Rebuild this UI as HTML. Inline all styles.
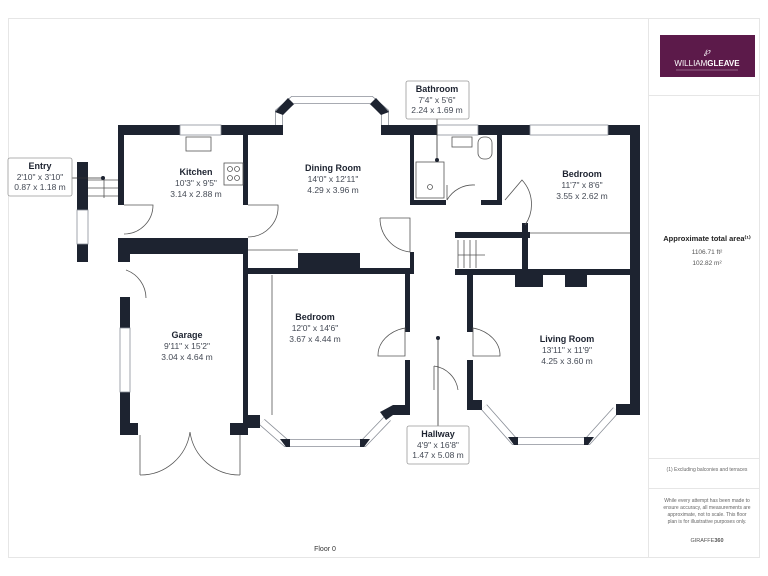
<!DOCTYPE html>
<html><head><meta charset="utf-8"><style>
body{margin:0;background:#fff;}
svg{display:block;font-family:"Liberation Sans",sans-serif;}
.w{fill:#1d2330;}
.win{fill:#fff;stroke:#8a8f98;stroke-width:0.8;}
.t{fill:#1d2330;font-weight:bold;font-size:9px;text-anchor:middle;}
.s{fill:#444a55;font-size:8.5px;text-anchor:middle;}
.l{fill:none;stroke:#555;stroke-width:0.8;}
.box{fill:#fff;stroke:#999;stroke-width:0.8;}
.bo{fill:none;stroke:#8a8f98;stroke-width:8;}
.bi{fill:none;stroke:#fff;stroke-width:6.4;}
</style></head><body>
<svg width="768" height="576" viewBox="0 0 768 576">
<rect x="8.5" y="18.5" width="751" height="539" fill="none" stroke="#e6e6e6"/>
<line x1="648.5" y1="18" x2="648.5" y2="558" stroke="#e6e6e6"/>
<line x1="648" y1="95.5" x2="760" y2="95.5" stroke="#e6e6e6"/>
<line x1="648" y1="458.5" x2="760" y2="458.5" stroke="#e6e6e6"/>
<line x1="648" y1="488.5" x2="760" y2="488.5" stroke="#e6e6e6"/>
<rect x="660" y="35" width="95" height="42" fill="#5c1a4a"/>
<text x="707" y="54" fill="#fff" font-size="9" text-anchor="middle" font-style="italic">℘</text>
<text x="707" y="66" fill="#fff" font-size="8" text-anchor="middle">WILLIAM<tspan font-weight="bold">GLEAVE</tspan></text>
<line x1="676" y1="70" x2="738" y2="70" stroke="#c9a9c0" stroke-width="0.6"/>
<text x="707" y="241" font-size="7.5" font-weight="bold" text-anchor="middle" fill="#222">Approximate total area⁽¹⁾</text>
<text x="707" y="254" font-size="6.5" text-anchor="middle" fill="#555">1106.71 ft²</text>
<text x="707" y="265" font-size="6.5" text-anchor="middle" fill="#555">102.82 m²</text>
<text x="707" y="471" font-size="5" text-anchor="middle" fill="#666">(1) Excluding balconies and terraces</text>
<text x="707" y="502" font-size="5" text-anchor="middle" fill="#666">While every attempt has been made to</text>
<text x="707" y="509" font-size="5" text-anchor="middle" fill="#666">ensure accuracy, all measurements are</text>
<text x="707" y="516" font-size="5" text-anchor="middle" fill="#666">approximate, not to scale. This floor</text>
<text x="707" y="523" font-size="5" text-anchor="middle" fill="#666">plan is for illustrative purposes only.</text>
<text x="707" y="542" font-size="5.5" text-anchor="middle" fill="#555">GIRAFFE<tspan font-weight="bold">360</tspan></text>
<text x="325" y="551" font-size="7" text-anchor="middle" fill="#333">Floor 0</text>

<polyline class="bo" points="279,125 279,112 293,100 371,100 385,112 385,125"/>
<polyline class="bi" points="279,125 279,112 293,100 371,100 385,112 385,125"/>
<polyline class="bo" points="262,422 286,443 364,443 388,418"/>
<polyline class="bi" points="262,422 286,443 364,443 388,418"/>
<polyline class="bo" points="484,407 514,441 588,441 616,410"/>
<polyline class="bi" points="484,407 514,441 588,441 616,410"/>
<g class="w">
<rect x="118" y="125" width="62" height="10"/>
<rect x="221" y="125" width="62" height="10"/>
<polygon points="275,112 288,98 294,104 283,115"/>
<polygon points="370,104 376,98 389,112 381,115"/>
<rect x="118" y="125" width="6" height="80"/>
<rect x="243" y="135" width="5" height="70"/>
<rect x="118" y="238" width="130" height="16"/>
<rect x="118" y="238" width="12" height="24"/>
<rect x="77" y="162" width="11" height="48"/>
<rect x="77" y="244" width="11" height="18"/>
<rect x="381" y="125" width="56" height="10"/>
<rect x="478" y="125" width="52" height="10"/>
<rect x="608" y="125" width="32" height="10"/>
<rect x="630" y="125" width="10" height="290"/>
<rect x="410" y="135" width="4" height="65"/>
<rect x="410" y="200" width="36" height="5"/>
<rect x="481" y="200" width="21" height="5"/>
<rect x="497" y="135" width="5" height="70"/>
<rect x="455" y="232" width="75" height="6"/>
<rect x="522" y="223" width="6" height="52"/>
<rect x="455" y="269" width="175" height="6"/>
<rect x="515" y="269" width="28" height="18"/>
<rect x="565" y="269" width="22" height="18"/>
<rect x="243" y="268" width="171" height="6"/>
<rect x="298" y="253" width="62" height="16"/>
<rect x="243" y="238" width="5" height="30"/>
<rect x="410" y="252" width="4" height="22"/>
<rect x="405" y="270" width="5" height="62"/>
<rect x="405" y="360" width="5" height="48"/>
<rect x="393" y="405" width="17" height="10"/>
<polygon points="380,412 393,405 393,415 386,420"/>
<rect x="467" y="270" width="6" height="62"/>
<rect x="467" y="360" width="6" height="50"/>
<rect x="467" y="400" width="15" height="10"/>
<rect x="243" y="270" width="5" height="150"/>
<rect x="243" y="415" width="17" height="13"/>
<rect x="230" y="423" width="18" height="12"/>
<rect x="120" y="297" width="10" height="31"/>
<rect x="120" y="392" width="10" height="43"/>
<rect x="120" y="423" width="18" height="12"/>
<rect x="616" y="404" width="24" height="11"/>
<polygon points="280,439 290,439 290,447 286,447"/>
<polygon points="360,439 370,439 364,447 360,447"/>
<polygon points="508,437 518,437 518,445 514,445"/>
<polygon points="584,437 594,437 588,445 584,445"/>
</g>
<rect class="win" x="180" y="125" width="41" height="10"/>
<rect class="win" x="437" y="125" width="41" height="10"/>
<rect class="win" x="530" y="125" width="78" height="10"/>
<rect class="win" x="77" y="210" width="11" height="34"/>
<rect class="win" x="120" y="328" width="10" height="64"/>
<path class="l" d="M124,205 L153,205 A29,29 0 0 1 124,234"/>
<path class="l" d="M248,205 L278,205 A30,30 0 0 1 248,237"/>
<path class="l" d="M380,218 L410,218 L410,252 A34,34 0 0 1 380,218"/>
<path class="l" d="M447,185 L447,200 M447,200 A30,30 0 0 1 475,185"/>
<path class="l" d="M505,200 L522,180 A36,36 0 0 1 525,225"/>
<path class="l" d="M378,356 A35,28 0 0 1 405,328 L405,356 Z"/>
<path class="l" d="M500,356 A35,28 0 0 0 473,328 L473,356 Z"/>
<path class="l" d="M146,298 A30,30 0 0 0 126,270"/>
<path class="l" d="M434,366 L434,390 M434,366 A28,28 0 0 1 458,390"/>
<path class="l" d="M140,475 L140,435 M140,475 A50,50 0 0 0 190,432 M240,475 L240,435 M240,475 A50,50 0 0 1 190,432"/>
<line class="l" x1="272" y1="275" x2="272" y2="415"/>
<line class="l" x1="248" y1="250" x2="298" y2="250"/>
<line class="l" x1="530" y1="233" x2="630" y2="233" stroke-width="1.5"/>
<g class="l"><line x1="458" y1="240" x2="458" y2="268"/><line x1="464" y1="240" x2="464" y2="268"/><line x1="470" y1="240" x2="470" y2="268"/><line x1="476" y1="240" x2="476" y2="268"/><line x1="458" y1="255" x2="485" y2="255"/></g>
<g class="l"><line x1="88" y1="180" x2="118" y2="180"/><line x1="88" y1="188" x2="118" y2="188"/><line x1="88" y1="196" x2="118" y2="196"/><line x1="104" y1="180" x2="104" y2="198"/></g>
<rect class="l" x="186" y="137" width="25" height="14"/>
<rect class="l" x="224" y="163" width="19" height="22"/>
<circle class="l" cx="230" cy="169" r="2.5"/><circle class="l" cx="237" cy="169" r="2.5"/><circle class="l" cx="230" cy="178" r="2.5"/><circle class="l" cx="237" cy="178" r="2.5"/>
<rect class="l" x="416" y="162" width="28" height="36"/>
<circle class="l" cx="430" cy="187" r="2.5"/>
<rect class="l" x="452" y="137" width="20" height="10"/>
<rect class="l" x="478" y="137" width="14" height="22" rx="6"/>
<line x1="72" y1="178" x2="104" y2="178" stroke="#333" stroke-width="0.8"/><circle cx="103" cy="178" r="2" fill="#1d2330"/>
<line x1="437" y1="117" x2="437" y2="160" stroke="#333" stroke-width="0.8"/><circle cx="437" cy="160" r="2" fill="#1d2330"/>
<line x1="438" y1="338" x2="438" y2="426" stroke="#333" stroke-width="0.8"/><circle cx="438" cy="338" r="2" fill="#1d2330"/>
<rect class="box" x="8" y="158" width="64" height="38" rx="2"/>
<text class="t" x="40" y="169">Entry</text><text class="s" x="40" y="180">2'10" x 3'10"</text><text class="s" x="40" y="190">0.87 x 1.18 m</text>
<rect class="box" x="406" y="81" width="63" height="38" rx="2"/>
<text class="t" x="437" y="92">Bathroom</text><text class="s" x="437" y="103">7'4" x 5'6"</text><text class="s" x="437" y="113">2.24 x 1.69 m</text>
<rect class="box" x="407" y="426" width="62" height="38" rx="2"/>
<text class="t" x="438" y="437">Hallway</text><text class="s" x="438" y="448">4'9" x 16'8"</text><text class="s" x="438" y="458">1.47 x 5.08 m</text>
<text class="t" x="196" y="175">Kitchen</text><text class="s" x="196" y="186">10'3" x 9'5"</text><text class="s" x="196" y="197">3.14 x 2.88 m</text>
<text class="t" x="333" y="171">Dining Room</text><text class="s" x="333" y="182">14'0" x 12'11"</text><text class="s" x="333" y="193">4.29 x 3.96 m</text>
<text class="t" x="582" y="177">Bedroom</text><text class="s" x="582" y="188">11'7" x 8'6"</text><text class="s" x="582" y="199">3.55 x 2.62 m</text>
<text class="t" x="187" y="338">Garage</text><text class="s" x="187" y="349">9'11" x 15'2"</text><text class="s" x="187" y="360">3.04 x 4.64 m</text>
<text class="t" x="315" y="320">Bedroom</text><text class="s" x="315" y="331">12'0" x 14'6"</text><text class="s" x="315" y="342">3.67 x 4.44 m</text>
<text class="t" x="567" y="342">Living Room</text><text class="s" x="567" y="353">13'11" x 11'9"</text><text class="s" x="567" y="364">4.25 x 3.60 m</text>
</svg>
</body></html>
